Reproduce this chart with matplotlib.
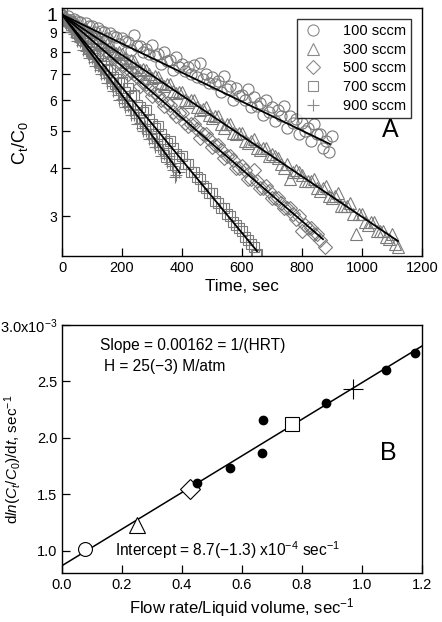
import numpy as np
import matplotlib
matplotlib.use('Agg')
import matplotlib.pyplot as plt
from matplotlib.ticker import FixedLocator, NullLocator

plt.rcParams['font.family'] = ['Liberation Sans', 'DejaVu Sans']
plt.rcParams['mathtext.fontset'] = 'custom'
plt.rcParams['mathtext.rm'] = 'Liberation Sans'
plt.rcParams['mathtext.it'] = 'Liberation Sans:italic'
plt.rcParams['mathtext.bf'] = 'Liberation Sans:bold'

# ---- panel A: C_t/C_0 vs time (two interleaved read-outs per series) ----
t100 = [0, 20, 40, 60, 80, 100, 120, 140, 160, 180, 200, 220, 240, 260, 280, 300, 320, 340, 360, 380,
        400, 420, 440, 460, 480, 500, 520, 540, 560, 580, 600, 620, 640, 660, 680, 700, 720, 740, 760,
        780, 800, 820, 840, 860, 880, 900,
        10, 30, 50, 70, 90, 110, 130, 150, 170, 190, 210, 230, 250, 270, 290, 310, 330, 350, 370, 390,
        410, 430, 450, 470, 490, 510, 530, 550, 570, 590, 610, 630, 650, 670, 690, 710, 730, 750, 770,
        790, 810, 830, 850, 870, 890]
c100 = [1.00, 0.99, 0.975, 0.955, 0.95, 0.935, 0.925, 0.90, 0.895, 0.875, 0.87, 0.85, 0.885, 0.83, 0.815,
        0.835, 0.79, 0.80, 0.765, 0.775, 0.745, 0.73, 0.74, 0.75, 0.70, 0.69, 0.675, 0.695, 0.655, 0.645,
        0.62, 0.64, 0.61, 0.59, 0.60, 0.575, 0.565, 0.58, 0.545, 0.535, 0.525, 0.51, 0.52, 0.49, 0.47, 0.485,
        0.975, 0.96, 0.965, 0.92, 0.935, 0.90, 0.905, 0.87, 0.88, 0.84, 0.855, 0.81, 0.83, 0.80, 0.79,
        0.78, 0.745, 0.76, 0.72, 0.73, 0.715, 0.70, 0.69, 0.68, 0.665, 0.66, 0.63, 0.64, 0.60, 0.615,
        0.60, 0.575, 0.58, 0.55, 0.56, 0.53, 0.545, 0.51, 0.525, 0.49, 0.50, 0.47, 0.49, 0.45, 0.44]

t300 = [0, 20, 40, 60, 80, 100, 120, 140, 160, 180, 200, 220, 240, 260, 280, 300, 320, 340, 360, 380,
        400, 420, 440, 460, 480, 500, 520, 540, 560, 580, 600, 620, 640, 660, 680, 700, 720, 740, 760,
        780, 800, 820, 840, 860, 880, 900, 920, 940, 960, 980, 1000, 1020, 1040, 1060, 1080, 1100, 1120,
        10, 30, 50, 70, 90, 110, 130, 150, 170, 190, 210, 230, 250, 270, 290, 310, 330, 350, 370, 390,
        410, 430, 450, 470, 490, 510, 530, 550, 570, 590, 610, 630, 650, 670, 690, 710, 730, 750, 770,
        790, 810, 830, 850, 870, 890, 910, 930, 950, 970, 990, 1010, 1030, 1050, 1070, 1090, 1110]
c300 = [1.02, 0.97, 0.96, 0.92, 0.915, 0.875, 0.87, 0.835, 0.83, 0.795, 0.79, 0.755, 0.76, 0.72, 0.72,
        0.685, 0.69, 0.655, 0.66, 0.625, 0.63, 0.595, 0.60, 0.565, 0.575, 0.54, 0.545, 0.51, 0.52, 0.49,
        0.495, 0.465, 0.475, 0.445, 0.45, 0.435, 0.425, 0.40, 0.375, 0.395, 0.385, 0.37, 0.375, 0.35, 0.36,
        0.335, 0.345, 0.32, 0.325, 0.27, 0.305, 0.285, 0.29, 0.275, 0.265, 0.27, 0.25,
        0.985, 0.955, 0.945, 0.91, 0.90, 0.87, 0.85, 0.84, 0.805, 0.80, 0.77, 0.765, 0.73, 0.725, 0.70,
        0.695, 0.665, 0.66, 0.635, 0.63, 0.60, 0.60, 0.575, 0.57, 0.55, 0.545, 0.52, 0.52, 0.495, 0.495,
        0.47, 0.47, 0.45, 0.45, 0.43, 0.43, 0.41, 0.41, 0.39, 0.39, 0.37, 0.37, 0.355, 0.355, 0.34, 0.338,
        0.32, 0.32, 0.305, 0.305, 0.29, 0.29, 0.275, 0.275, 0.262, 0.255]

t500 = [0, 20, 40, 60, 80, 100, 120, 140, 160, 180, 200, 220, 240, 260, 280, 300, 320, 340, 360, 380,
        400, 420, 440, 460, 480, 500, 520, 540, 560, 580, 600, 620, 640, 660, 680, 700, 720, 740, 760,
        780, 800, 820, 840, 860, 875,
        10, 30, 50, 70, 90, 110, 130, 150, 170, 190, 210, 230, 250, 270, 290, 310, 330, 350, 370, 390,
        410, 430, 450, 470, 490, 510, 530, 550, 570, 590, 610, 630, 650, 670, 690, 710, 730, 750, 770,
        790, 810, 830, 850]
c500 = [0.99, 0.965, 0.945, 0.90, 0.89, 0.845, 0.84, 0.79, 0.79, 0.745, 0.745, 0.70, 0.70, 0.655, 0.66,
        0.615, 0.62, 0.58, 0.585, 0.545, 0.555, 0.515, 0.52, 0.48, 0.49, 0.455, 0.46, 0.425, 0.43, 0.40,
        0.405, 0.375, 0.395, 0.355, 0.36, 0.335, 0.335, 0.315, 0.315, 0.295, 0.275, 0.28, 0.27, 0.26, 0.25,
        0.98, 0.955, 0.93, 0.89, 0.875, 0.85, 0.815, 0.80, 0.775, 0.75, 0.725, 0.71, 0.69, 0.665, 0.64,
        0.625, 0.60, 0.59, 0.56, 0.555, 0.525, 0.52, 0.505, 0.49, 0.475, 0.46, 0.445, 0.43, 0.42, 0.40,
        0.395, 0.375, 0.37, 0.355, 0.35, 0.335, 0.325, 0.315, 0.305, 0.30, 0.285, 0.28, 0.27]

t700 = [0, 20, 40, 60, 80, 100, 120, 140, 160, 180, 200, 220, 240, 260, 280, 300, 320, 340, 360, 380,
        400, 420, 440, 460, 480, 500, 520, 540, 560, 580, 600, 620, 640, 650,
        10, 30, 50, 70, 90, 110, 130, 150, 170, 190, 210, 230, 250, 270, 290, 310, 330, 350, 370, 390,
        410, 430, 450, 470, 490, 510, 530, 550, 570, 590, 610, 630, 645]
c700 = [1.02, 0.96, 0.93, 0.875, 0.855, 0.80, 0.785, 0.735, 0.72, 0.68, 0.67, 0.645, 0.62, 0.575, 0.565,
        0.52, 0.515, 0.475, 0.47, 0.435, 0.43, 0.41, 0.39, 0.375, 0.355, 0.345, 0.325, 0.315, 0.30, 0.285,
        0.275, 0.26, 0.25, 0.24,
        0.975, 0.94, 0.895, 0.86, 0.82, 0.79, 0.75, 0.725, 0.69, 0.665, 0.63, 0.615, 0.585, 0.56, 0.535,
        0.51, 0.49, 0.465, 0.45, 0.425, 0.41, 0.39, 0.38, 0.36, 0.345, 0.33, 0.315, 0.305, 0.29, 0.28,
        0.265, 0.255, 0.238]

t900 = [0, 10, 20, 30, 40, 50, 60, 70, 80, 90, 100, 110, 120, 130, 140, 150, 160, 170, 180, 190, 200,
        210, 220, 230, 240, 250, 260, 270, 280, 290, 300, 310, 320, 330, 340, 350, 360, 370, 380, 390,
        5, 15, 25, 35, 45, 55, 65, 75, 85, 95, 105, 115, 125, 135, 145, 155, 165, 175, 185, 195, 205,
        215, 225, 235, 245, 255, 265, 275, 285, 295, 305, 315, 325, 335, 345, 355, 365, 375]
c900 = [1.00, 0.96, 0.94, 0.90, 0.89, 0.855, 0.85, 0.81, 0.805, 0.77, 0.77, 0.735, 0.735, 0.70, 0.70,
        0.665, 0.665, 0.635, 0.64, 0.60, 0.605, 0.575, 0.58, 0.55, 0.55, 0.52, 0.525, 0.50, 0.50, 0.475,
        0.48, 0.455, 0.455, 0.43, 0.435, 0.415, 0.41, 0.395, 0.385, 0.39,
        0.98, 0.955, 0.93, 0.91, 0.875, 0.875, 0.835, 0.83, 0.79, 0.795, 0.755, 0.76, 0.72, 0.72, 0.685,
        0.69, 0.655, 0.655, 0.62, 0.625, 0.59, 0.60, 0.565, 0.57, 0.54, 0.54, 0.51, 0.515, 0.49, 0.49,
        0.465, 0.47, 0.445, 0.445, 0.425, 0.43, 0.405, 0.38]

series_labels = ['100 sccm', '300 sccm', '500 sccm', '700 sccm', '900 sccm']
# fitted lines: start at (0, 1), end points
fit_t_end = [893, 1120, 870, 650, 393]
fit_c_end = [0.462, 0.259, 0.262, 0.244, 0.389]

# ---- panel B: decay rate vs flow rate / liquid volume (x1e-3 sec^-1) ----
open_x = [0.075, 0.25, 0.425, 0.765, 0.97]
open_y = [1.02, 1.23, 1.55, 2.12, 2.43]
dot_x = [0.45, 0.56, 0.665, 0.67, 0.88, 1.08, 1.175]
dot_y = [1.60, 1.73, 1.87, 2.16, 2.31, 2.60, 2.75]
line_x = [0.0, 1.2]
line_y = [0.87, 2.814]

fig = plt.figure(figsize=(4.42, 6.22), dpi=100)
axA = fig.add_axes([0.1403, 0.5884, 0.8145, 0.3987])
axB = fig.add_axes([0.1403, 0.0788, 0.8145, 0.3987])

gray = '#7a7a7a'
markers = ['o', '^', 'D', 's', '+']
msizes = [8, 8.5, 7, 7.5, 9]
tA = [t100, t300, t500, t700, t900]
cA = [c100, c300, c500, c700, c900]
for i in range(5):
    axA.plot(tA[i], cA[i], ls='none', marker=markers[i], ms=msizes[i], mfc='none',
             mec=gray, mew=0.8, label=series_labels[i])
for i in range(5):
    axA.plot([0, fit_t_end[i]], [1.0, fit_c_end[i]], color='black', lw=1.3, zorder=5)

axA.set_yscale('log')
axA.set_xlim(0, 1200)
axA.set_ylim(0.237, 1.04)
axA.yaxis.set_major_locator(FixedLocator([0.3, 0.4, 0.5, 0.6, 0.7, 0.8, 0.9, 1.0]))
axA.yaxis.set_minor_locator(NullLocator())
axA.set_yticklabels(['3', '4', '5', '6', '7', '8', '9', '1'])
axA.set_xticks([0, 200, 400, 600, 800, 1000, 1200])
axA.tick_params(direction='in', length=6, width=0.9, labelsize=10.5)
for lab in axA.get_yticklabels():
    lab.set_fontsize(10)
axA.get_yticklabels()[-1].set_fontsize(14)
axA.set_xlabel('Time, sec', fontsize=12.3, labelpad=3)
axA.set_ylabel(r'C$_\mathrm{t}$/C$_\mathrm{0}$', fontsize=13)
axA.yaxis.set_label_coords(-0.089, 0.456)
axA.text(1093, 0.503, 'A', fontsize=18, ha='center', va='center')
leg = axA.legend(handles=[plt.Line2D([], [], ls='none', marker=markers[i], ms=msizes[i],
                                      mfc='none', mec='#8a8a8a', mew=0.8) for i in range(5)],
                 labels=series_labels, loc='upper right', bbox_to_anchor=(0.99, 0.985),
                 fontsize=10.5, frameon=True, fancybox=False, edgecolor='black',
                 handletextpad=1.3, labelspacing=0.32, borderpad=0.35, handlelength=1.5)
leg.get_frame().set_linewidth(1.0)

axB.plot(line_x, line_y, color='black', lw=1.1, zorder=2)
bmk = ['o', '^', 'D', 's', '+']
bms = [10, 11, 10, 10, 14]
for i in range(5):
    axB.plot(open_x[i], open_y[i], ls='none', marker=bmk[i], ms=bms[i], mfc='white',
             mec='black', mew=0.8, zorder=3)
axB.plot(dot_x, dot_y, ls='none', marker='o', ms=6, color='black', zorder=3)
axB.set_xlim(0, 1.2)
axB.set_ylim(0.805, 3.0)
axB.set_xticks([0.0, 0.2, 0.4, 0.6, 0.8, 1.0, 1.2])
axB.set_xticklabels(['0.0', '0.2', '0.4', '0.6', '0.8', '1.0', '1.2'])
axB.set_yticks([1.0, 1.5, 2.0, 2.5, 3.0])
axB.set_yticklabels(['1.0', '1.5', '2.0', '2.5', '3.0x10$^{-3}$'])
axB.tick_params(direction='in', length=6, width=0.9, labelsize=10.5)
axB.set_xlabel('Flow rate/Liquid volume, sec$^{-1}$', fontsize=12, labelpad=3)
axB.set_ylabel(r'd$\mathit{ln}$($\mathit{C_t}$/$\mathit{C_0}$)/d$\mathit{t}$, sec$^{-1}$',
               fontsize=11)
axB.yaxis.set_label_coords(-0.106, 0.46)
axB.text(0.127, 2.82, 'Slope = 0.00162 = 1/(HRT)', fontsize=11.2, va='center')
axB.text(0.14, 2.63, 'H = 25(\u22123) M/atm', fontsize=11.2, va='center')
axB.text(0.177, 1.01, 'Intercept = 8.7(\u22121.3) x10$^{-4}$ sec$^{-1}$', fontsize=11.2, va='center')
axB.text(1.087, 1.87, 'B', fontsize=18, ha='center', va='center')

for ax in (axA, axB):
    for sp in ax.spines.values():
        sp.set_linewidth(1.0)

fig.savefig('out.png', dpi=100)
